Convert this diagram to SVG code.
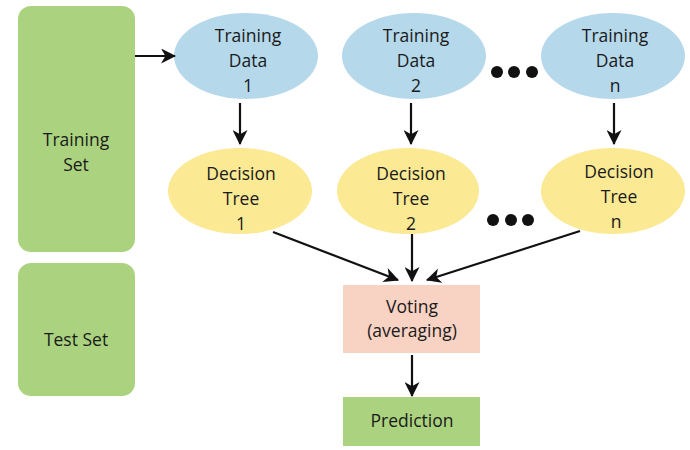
<svg xmlns="http://www.w3.org/2000/svg" width="690" height="450" viewBox="0 0 690 450">
<defs>
<style>
text{font-family:"Open Sans","Noto Sans",sans-serif;font-size:17.5px;fill:#1a1a1a;text-anchor:middle}
.set{fill:#abd37f}
.td{fill:#b5d8ea}
.dt{fill:#fbe994}
.vote{fill:#f8d2c3}
.con line{stroke:#111;stroke-width:2.2;fill:none}
.dot{fill:#111}
</style>
<marker id="ah" viewBox="0 0 14 14" refX="13" refY="7" markerWidth="15" markerHeight="15" markerUnits="userSpaceOnUse" orient="auto">
<path d="M0,0 L14,7 L0,14 L4,7 Z" fill="#111"/>
</marker>
</defs>
<rect width="690" height="450" fill="#fff"/>
<g id="training-set"><rect class="set" x="18" y="6" width="117" height="246" rx="13"/><text x="76" y="146">Training</text><text x="76" y="171">Set</text></g>
<g id="test-set"><rect class="set" x="18" y="263" width="117" height="133" rx="13"/><text x="76" y="346">Test Set</text></g>
<g id="td1"><ellipse class="td" cx="246" cy="56" rx="72" ry="43"/><text x="248" y="42">Training</text><text x="248" y="67">Data</text><text x="248" y="92">1</text></g>
<g id="td2"><ellipse class="td" cx="414" cy="56" rx="72" ry="43"/><text x="416" y="42">Training</text><text x="416" y="67">Data</text><text x="416" y="92">2</text></g>
<g id="tdn"><ellipse class="td" cx="613" cy="56" rx="72" ry="43"/><text x="615" y="42">Training</text><text x="615" y="67">Data</text><text x="615" y="92">n</text></g>
<g id="dt1"><ellipse class="dt" cx="240" cy="191" rx="72" ry="43"/><text x="241" y="180">Decision</text><text x="241" y="205">Tree</text><text x="241" y="230">1</text></g>
<g id="dt2"><ellipse class="dt" cx="408" cy="191" rx="71" ry="43"/><text x="411" y="180">Decision</text><text x="411" y="205">Tree</text><text x="411" y="230">2</text></g>
<g id="dtn"><ellipse class="dt" cx="613" cy="191" rx="72" ry="43"/><text x="619" y="178">Decision</text><text x="619" y="203">Tree</text><text x="616" y="228">n</text></g>
<g id="voting"><rect class="vote" x="343" y="285" width="137" height="68"/><text x="412" y="313">Voting</text><text x="412" y="337">(averaging)</text></g>
<g id="prediction"><rect class="set" x="343" y="397" width="137" height="49"/><text x="412" y="427">Prediction</text></g>
<g id="dots"><circle class="dot" cx="497" cy="72" r="6"/><circle class="dot" cx="514" cy="72" r="6"/><circle class="dot" cx="532" cy="72" r="6"/><circle class="dot" cx="493" cy="220" r="6"/><circle class="dot" cx="511" cy="220" r="6"/><circle class="dot" cx="528" cy="220" r="6"/></g>
<g id="connectors" class="con">
<line x1="135" y1="56" x2="175" y2="56" marker-end="url(#ah)"/>
<line x1="240" y1="103" x2="240" y2="144" marker-end="url(#ah)"/>
<line x1="411" y1="103" x2="411" y2="144" marker-end="url(#ah)"/>
<line x1="614" y1="103" x2="614" y2="144" marker-end="url(#ah)"/>
<line x1="273" y1="232" x2="398" y2="280" marker-end="url(#ah)"/>
<line x1="412" y1="234" x2="412" y2="281" marker-end="url(#ah)"/>
<line x1="580" y1="231" x2="427" y2="280" marker-end="url(#ah)"/>
<line x1="412" y1="355" x2="412" y2="396" marker-end="url(#ah)"/>
</g>
</svg>
